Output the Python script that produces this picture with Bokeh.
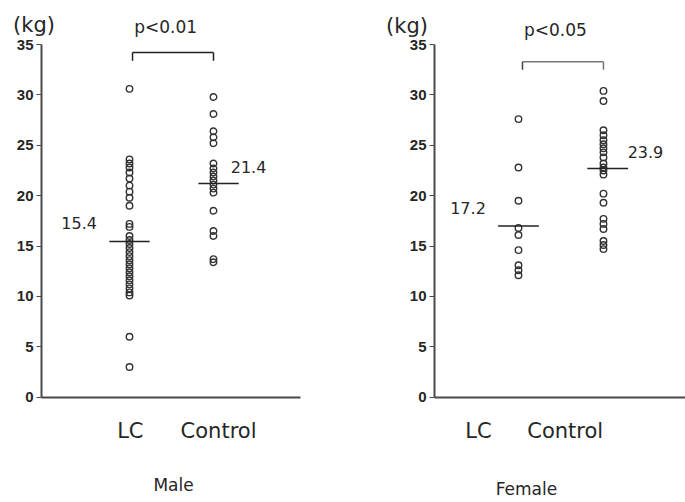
from bokeh.plotting import figure
from bokeh.layouts import row
from bokeh.models import FixedTicker, Range1d
from bokeh.core.properties import value
from bokeh.embed import file_html
from bokeh.resources import INLINE

# ---- data ----
groups = ["LC", "Control"]
group_x = [1, 2]
y_ticks = [0, 5, 10, 15, 20, 25, 30, 35]

male_lc = [30.6, 23.6, 23.2, 22.8, 22.3, 21.7, 21.0, 20.4, 19.8, 19.0, 17.2, 16.9,
           16.0, 15.6, 15.2, 14.8, 14.4, 14.0, 13.6, 13.2, 12.8, 12.4, 12.0, 11.6,
           11.2, 10.8, 10.4, 10.1, 6.0, 3.0]
male_ctrl = [29.8, 28.1, 26.4, 25.8, 25.2, 23.2, 22.7, 22.3, 21.9, 21.5, 21.1, 20.7,
             20.3, 18.5, 16.5, 16.0, 13.7, 13.4]
female_lc = [27.6, 22.8, 19.5, 16.8, 16.1, 14.6, 13.1, 12.6, 12.1]
female_ctrl = [30.4, 29.4, 26.5, 26.0, 25.5, 25.1, 24.7, 24.3, 23.8, 23.2, 22.8, 22.5,
               22.1, 20.2, 19.3, 17.7, 17.2, 16.7, 15.5, 15.1, 14.7]

male_mean_lines = [15.45, 21.2]
female_mean_lines = [17.0, 22.7]
male_mean_labels = ["15.4", "21.4"]
female_mean_labels = ["17.2", "23.9"]
male_p = "p<0.01"
female_p = "p<0.05"
panel_titles = ["Male", "Female"]
unit_label = "(kg)"

TXT = "#262626"
AX = "#4a4a4a"
FONT = "DejaVu Sans"
Y0, Y1 = -10.45, 39.37


def make_panel(width, x_start, x_end, y_axis_x, x_axis_end, lc, ctrl,
               mean_lines, mean_labels, ptext, title,
               tick_pos, mean_off, label_pos, p_pos, kg_pos, title_pos,
               bracket, bracket_colors):
    p = figure(width=width, height=502, output_backend="svg", toolbar_location=None,
               x_range=Range1d(x_start, x_end), y_range=Range1d(Y0, Y1),
               min_border=0)
    p.outline_line_color = None
    p.xgrid.visible = False
    p.ygrid.visible = False
    p.background_fill_color = "white"
    p.border_fill_color = "white"

    # y axis
    ya = p.yaxis[0]
    ya.fixed_location = y_axis_x
    ya.bounds = (0, 35)
    ya.ticker = FixedTicker(ticks=y_ticks)
    ya.minor_tick_line_color = None
    ya.major_tick_out = 5
    ya.major_tick_in = 0
    ya.major_tick_line_color = AX
    ya.axis_line_color = AX
    ya.axis_line_width = 2
    ya.major_label_standoff = 3
    ya.major_label_text_font = "Liberation Sans"
    ya.major_label_text_font_style = "bold"
    ya.major_label_text_font_size = "15px"
    ya.major_label_text_color = TXT

    # x axis with category labels
    xa = p.xaxis[0]
    xa.fixed_location = 0
    xa.bounds = (y_axis_x, x_axis_end)
    xa.ticker = FixedTicker(ticks=tick_pos)
    xa.major_label_overrides = {tick_pos[i]: groups[i] for i in range(2)}
    xa.minor_tick_line_color = None
    xa.major_tick_line_color = None
    xa.major_tick_out = 0
    xa.major_tick_in = 0
    xa.axis_line_color = AX
    xa.axis_line_width = 2
    xa.major_label_standoff = 22
    xa.major_label_text_font = FONT
    xa.major_label_text_font_size = "21px"
    xa.major_label_text_color = TXT

    # points
    xs = [group_x[0]] * len(lc) + [group_x[1]] * len(ctrl)
    ys = list(lc) + list(ctrl)
    p.scatter(x=xs, y=ys, marker="circle", size=6.5, fill_color=None,
              line_color="#333333", line_width=1.4)

    # mean lines
    p.segment(x0=[group_x[i] + mean_off[i] - 0.24 for i in range(2)],
              x1=[group_x[i] + mean_off[i] + 0.24 for i in range(2)],
              y0=mean_lines, y1=mean_lines, line_color="#222222", line_width=1.5)

    # mean labels
    p.text(x=[lp[0] for lp in label_pos], y=[lp[1] for lp in label_pos], text=mean_labels,
           text_font=value(FONT), text_font_size="16px", text_color=TXT,
           text_align="center", text_baseline="middle")

    # bracket
    bx0, bx1, by, bdrop = bracket
    p.segment(x0=[bx0, bx0, bx1], x1=[bx1, bx0, bx1], y0=[by, by, by],
              y1=[by, by - bdrop, by - bdrop],
              line_color=bracket_colors, line_width=1.5)

    # p value
    p.text(x=[p_pos[0]], y=[p_pos[1]], text=[ptext], text_font=value(FONT),
           text_font_size="17px", text_color=TXT, text_align="center",
           text_baseline="middle")

    # unit label and panel title
    p.text(x=[kg_pos[0]], y=[kg_pos[1]], text=[unit_label], text_font=value(FONT),
           text_font_size="21px", text_color=TXT, text_align="center",
           text_baseline="middle")
    p.text(x=[title_pos[0]], y=[title_pos[1]], text=[title], text_font=value(FONT),
           text_font_size="17px", text_color=TXT, text_align="center",
           text_baseline="middle")
    return p


left = make_panel(348, -0.5357, 3.607, -0.0476, 3.036, male_lc, male_ctrl,
                  male_mean_lines, male_mean_labels, male_p, panel_titles[0],
                  tick_pos=[1.01, 2.06], mean_off=[0.0, 0.06],
                  label_pos=[(0.40, 17.25), (2.417, 22.8)],
                  p_pos=(1.43, 36.7), kg_pos=(-0.137, 36.9), title_pos=(1.524, -8.72),
                  bracket=(1.036, 2.0, 34.2, 0.8),
                  bracket_colors=["#222222", "#222222", "#222222"])

right = make_panel(337, -1.0, 2.965, 0.0118, 2.965, female_lc, female_ctrl,
                   female_mean_lines, female_mean_labels, female_p, panel_titles[1],
                   tick_pos=[0.53, 1.55], mean_off=[0.0, 0.05],
                   label_pos=[(0.406, 18.74), (2.494, 24.3)],
                   p_pos=(1.435, 36.4), kg_pos=(-0.312, 36.8), title_pos=(1.094, -9.12),
                   bracket=(1.047, 2.0, 33.3, 0.8),
                   bracket_colors=["#777777", "#444444", "#777777"])

layout = row(left, right)
open("out.html", "w").write(file_html(layout, INLINE))
